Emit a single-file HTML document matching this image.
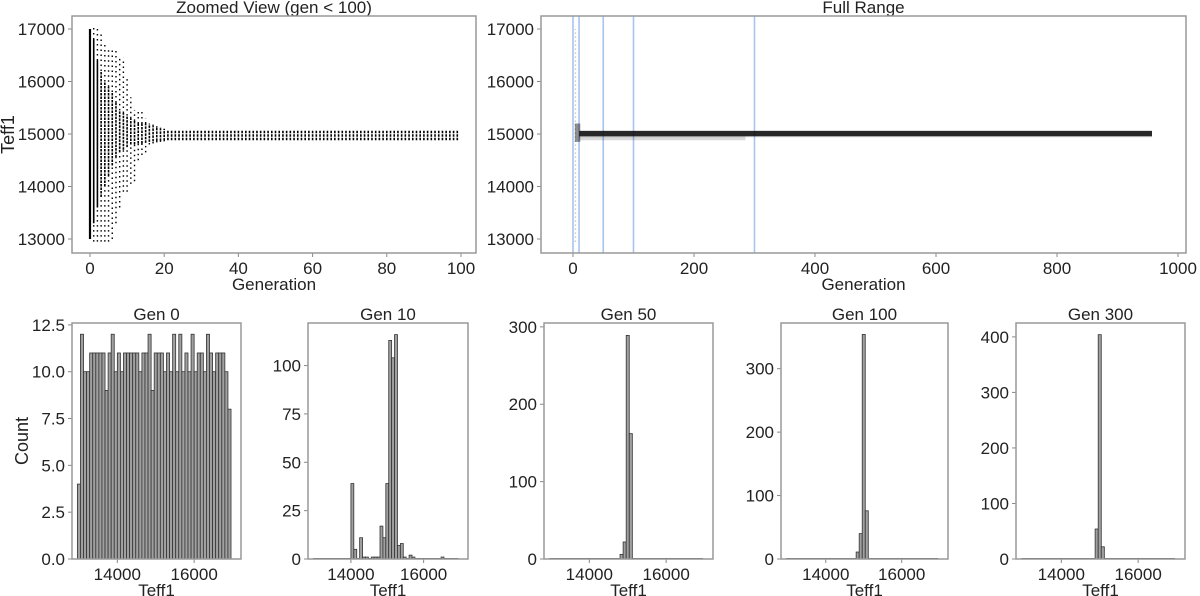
<!DOCTYPE html>
<html><head><meta charset="utf-8"><style>
html,body{margin:0;padding:0;background:#fff;}
svg{display:block;font-family:"Liberation Sans",Arial,sans-serif;}
</style></head><body>
<svg id="fig" width="1200" height="596" viewBox="0 0 1200 596"></svg>
<script>
// ---------- data ----------
const zoomGens = [0,1,2,3,4,5,6,7,8,9,10,11,12,13,14,15,16,17,18,19,20];
const zoomOuterHi = [17000,17020,17000,16950,16700,16600,16600,16600,16450,16450,16050,15700,15450,15450,15450,15300,15200,15200,15150,15120,15100];
const zoomOuterLo = [13000,12950,12950,12950,12950,12950,13000,13300,13600,13900,13900,14050,14100,14500,14600,14650,14800,14820,14840,14850,14860];
const zoomCoreHi = [17000,16800,16400,16200,16000,15900,15800,15600,15450,15400,15350,15300,15250,15200,15200,15200,15180,15150,15120,15100,15100];
const zoomCoreLo = [13000,13300,13600,13800,14000,14200,14400,14550,14650,14700,14750,14800,14800,14820,14820,14830,14850,14860,14870,14870,14875];
const steadyLo = 14880, steadyHi = 15080, lastGenZoom = 99;

const fullMarkers = [0,10,50,100,300];
const fullCoreLo = 14960, fullCoreHi = 15060, fullEnd = 957;
const fullGrayLo = 14880, fullGrayEnd = 285;

const histEdge0 = 12960, histBinW = 80;
const gen0Counts = [4,12,10,10,11,11,11,11,11,9,11,12,10,11,10,11,11,11,11,11,10,11,11,12,9,11,11,11,10,11,10,12,10,12,10,11,10,12,10,11,11,10,12,11,10,11,11,11,10,8];
const gen10Bins = [13,14,16,17,18,20,21,22,23,24,25,26,27,28,29,30,31,33,34,44];
const gen10Counts = [39,5,11,1,1,1,1,1,17,11,39,113,104,116,7,8,1,2,1,1];
const gen50Bins = [23,24,25,26];
const gen50Counts = [6,22,289,162];
const gen100Bins = [23,24,25,26];
const gen100Counts = [11,40,354,76];
const gen300Bins = [24,25,26];
const gen300Counts = [54,404,22];

// ---------- helpers ----------
const svg = document.getElementById('fig');
const NS = 'http://www.w3.org/2000/svg';
function mk(tag, attrs, parent){const e=document.createElementNS(NS,tag);for(const k in attrs)e.setAttribute(k,attrs[k]);(parent||svg).appendChild(e);return e;}
function txt(s,x,y,size,anchor,parent,rot){const t=mk('text',{x:x,y:y,'font-size':size,'text-anchor':anchor||'middle',fill:'#222'},parent);if(rot)t.setAttribute('transform',`rotate(-90 ${x} ${y})`);t.textContent=s;return t;}
function lin(d0,d1,r0,r1){return v=>r0+(v-d0)*(r1-r0)/(d1-d0);}

function panel(name, fr, xs, ys, xticks, yticks, title, xlabel, ylabel, fs){
  const g = mk('g',{});
  
  
  const f = fs||17;
  xticks.forEach(v=>{const x=xs(v);mk('line',{x1:x,x2:x,y1:fr.b,y2:fr.b+4,stroke:'#888'},g);const t=txt(String(v),x,fr.b+21,f,'middle',g);});
  yticks.forEach(v=>{const y=ys(v.v);mk('line',{x1:fr.l-4,x2:fr.l,y1:y,y2:y,stroke:'#888'},g);const t=txt(v.s,fr.l-7,y+6,f,'end',g);});
  const tt=txt(title,(fr.l+fr.r)/2,fr.t-3,17,'middle',g);
  if(xlabel){const xl=txt(xlabel,(fr.l+fr.r)/2,fr.b+37,17,'middle',g);}
  if(ylabel){const yl=txt(ylabel,fr.yl,(fr.t+fr.b)/2,18,'middle',g,true);}
  return g;
}
function frame(g,fr){mk('rect',{x:fr.l,y:fr.t,width:fr.r-fr.l,height:fr.b-fr.t,fill:'none',stroke:'#999','stroke-width':1.5},g);}

// ---------- top-left zoomed ----------
{
  const fr={l:72,r:476,t:16,b:253,yl:14};
  const xs=lin(0,100,90,461), ys=lin(13000,17000,239,29);
  const g=panel('zoomed-view-panel',fr,xs,ys,[0,20,40,60,80,100],[13000,14000,15000,16000,17000].map(v=>({v,s:String(v)})),'Zoomed View (gen < 100)','Generation','Teff1');
  for(let gi=0; gi<=lastGenZoom; gi++){
    const x=xs(gi);
    let lo=steadyLo, hi=steadyHi, olo=steadyLo, ohi=steadyHi;
    const k=zoomGens.indexOf(gi);
    if(k>=0){lo=zoomCoreLo[k];hi=zoomCoreHi[k];olo=zoomOuterLo[k];ohi=zoomOuterHi[k];}
    if(olo<lo){const l=mk('line',{x1:x,x2:x,y1:ys(olo),y2:ys(lo),stroke:'#000','stroke-width':1.4,'stroke-dasharray':'1.5 3.5'},g);}
    if(ohi>hi){const l=mk('line',{x1:x,x2:x,y1:ys(hi),y2:ys(ohi),stroke:'#000','stroke-width':1.4,'stroke-dasharray':'1.5 3.5'},g);}
    const l=mk('line',{x1:x,x2:x,y1:ys(lo),y2:ys(hi),stroke:'#000','stroke-width':gi===0?2.2:1.6,'stroke-dasharray':gi<3?'none':'2.5 1'},g);
    
    
  }
  frame(g,fr);
}

// ---------- top-right full range ----------
{
  const fr={l:541,r:1186,t:16,b:253};
  const xs=lin(0,1000,573,1178), ys=lin(13000,17000,239,29);
  const g=panel('full-range-panel',fr,xs,ys,[0,200,400,600,800,1000],[13000,14000,15000,16000,17000].map(v=>({v,s:String(v)})),'Full Range','Generation',null);
  fullMarkers.forEach(m=>{const l=mk('line',{x1:xs(m),x2:xs(m),y1:fr.t,y2:fr.b,stroke:'#a8c4f0','stroke-width':1.6},g);});
  const early=mk('line',{x1:xs(4),x2:xs(4),y1:ys(12950),y2:ys(17000),stroke:'#777','stroke-width':1.5,'stroke-dasharray':'1 3',opacity:0.6},g);
  
  
  const gray=mk('rect',{x:xs(10),y:ys(fullCoreLo),width:xs(fullGrayEnd)-xs(10),height:ys(fullGrayLo)-ys(fullCoreLo),fill:'#000',opacity:0.15},g);
  
  
  const g2=mk('rect',{x:xs(10),y:ys(fullCoreLo),width:xs(fullEnd)-xs(10),height:ys(14940)-ys(fullCoreLo),fill:'#000',opacity:0.3},g);
  
  
  const band=mk('rect',{x:xs(10),y:ys(fullCoreHi),width:xs(fullEnd)-xs(10),height:ys(fullCoreLo)-ys(fullCoreHi),fill:'#111',opacity:0.9},g);
  
  
  const blob=mk('rect',{x:xs(3),y:ys(15200),width:xs(12)-xs(3),height:ys(14850)-ys(15200),fill:'#222',opacity:0.5},g);
  
  
  frame(g,fr);
}

// ---------- histograms ----------
function hist(name,fr,ymax,yticks,bins,counts,title,ylabel){
  const xs=lin(12820,17220,fr.l,fr.r);
  const ys=lin(0,ymax,fr.b,fr.t);
  const g=panel(name,fr,xs,ys,[14000,16000],yticks,title,'Teff1',ylabel);
  mk('line',{x1:xs(histEdge0),x2:xs(histEdge0+50*histBinW),y1:fr.b-0.5,y2:fr.b-0.5,stroke:'#555','stroke-width':1},g);
  bins.forEach((b,i)=>{
    const x0=xs(histEdge0+b*histBinW), x1=xs(histEdge0+(b+1)*histBinW);
    const r=mk('rect',{x:x0,y:ys(counts[i]),width:x1-x0,height:fr.b-ys(counts[i]),fill:'#a0a0a0',stroke:'#333','stroke-width':0.8},g);
    
    
  });
  frame(g,fr);
}
const T=(arr,f)=>arr.map(v=>({v,s:f?f(v):String(v)}));
hist('hist-gen-0',{l:72,r:241,t:323,b:559,yl:28},12.6,T([0,2.5,5,7.5,10,12.5],v=>v.toFixed(1)),gen0Counts.map((_,i)=>i),gen0Counts,'Gen 0','Count');
hist('hist-gen-10',{l:308,r:468,t:323,b:559},122,T([0,25,50,75,100]),gen10Bins,gen10Counts,'Gen 10',null);
hist('hist-gen-50',{l:544,r:713,t:323,b:559},305,T([0,100,200,300]),gen50Bins,gen50Counts,'Gen 50',null);
hist('hist-gen-100',{l:781,r:948,t:323,b:559},372,T([0,100,200,300]),gen100Bins,gen100Counts,'Gen 100',null);
hist('hist-gen-300',{l:1016,r:1185,t:323,b:559},425,T([0,100,200,300,400]),gen300Bins,gen300Counts,'Gen 300',null);
</script>
</body></html>
